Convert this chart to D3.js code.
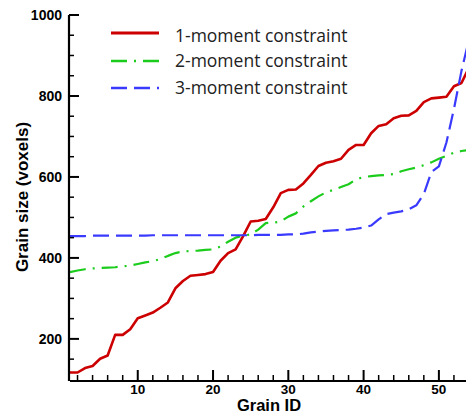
<!DOCTYPE html>
<html>
<head>
<meta charset="utf-8">
<script src="https://cdn.jsdelivr.net/npm/d3@7.9.0/dist/d3.min.js"></script>
<style>
  body { margin: 0; background: #fff; }
  svg { display: block; font-family: "Liberation Sans", Arial, sans-serif; }
  .tick-label { font-size: 14px; font-weight: bold; }
  .x-tick { font-size: 13.5px; }
  .axis-title { font-size: 17px; font-weight: bold; }
  .legend text { font-family: "Open Sans", sans-serif; font-size: 17.5px; fill: #222; }
</style>
</head>
<body>
<svg id="chart" width="466" height="414"></svg>
<script>
// grain ids 1..54
const grainIds = d3.range(1, 55);

const oneMoment = [117, 117, 128, 133, 151, 159, 210, 210, 224, 251,
  258, 265, 277, 290, 325, 343, 356, 358, 360, 365,
  393, 412, 421, 454, 490, 492, 496, 525, 560, 568,
  569, 584, 605, 627, 635, 639, 645, 667, 679, 679,
  708, 726, 730, 745, 751, 752, 763, 785, 794, 796,
  798, 824, 832, 870];

const twoMoment = [365, 369, 372, 374, 375, 376, 377, 379, 381, 385,
  389, 392, 397, 405, 412, 416, 417, 418, 420, 421,
  428, 440, 450, 455, 458, 470, 486, 487, 490, 502,
  510, 527, 540, 552, 562, 568, 575, 582, 594, 600,
  602, 604, 605, 607, 614, 619, 623, 629, 636, 645,
  652, 660, 664, 667];

const threeMoment = [454, 454, 454, 455, 455, 455, 455, 455, 455, 455,
  455, 456, 456, 456, 456, 456, 456, 456, 456, 456,
  456, 456, 456, 456, 456, 457, 457, 457, 457, 458,
  458, 460, 463, 465, 467, 468, 469, 470, 472, 475,
  480, 495, 508, 512, 515, 520, 530, 558, 612, 626,
  685, 768, 862, 940];

const seriesNames = ["1-moment constraint", "2-moment constraint", "3-moment constraint"];
const xMajorTicks = [10, 20, 30, 40, 50];
const yMajorTicks = [200, 400, 600, 800, 1000];

const seriesStyles = [
  { color: "#cc0000", width: 2.6, dash: null },
  { color: "#1ccc1c", width: 2.2, dash: "16,7,2,7" },
  { color: "#3a3aff", width: 2.2, dash: "16,7" }
];

const svg = d3.select("#chart");

const x = d3.scaleLinear().domain([1, 54]).range([70, 469]);
const y = d3.scaleLinear().domain([96, 1000]).range([381, 15]);

// curves
const allSeries = [oneMoment, twoMoment, threeMoment];
const line = d3.line().x((d, i) => x(grainIds[i])).y(d => y(d));

allSeries.forEach((vals, i) => {
  const s = seriesStyles[i];
  svg.append("path")
    .attr("d", line(vals))
    .attr("fill", "none")
    .attr("stroke", s.color)
    .attr("stroke-width", s.width)
    .attr("stroke-dasharray", s.dash)
    .attr("stroke-linejoin", "round");
});

// axes (ticks point inward)
const xAxis = svg.append("g").attr("transform", `translate(0,${y(96)})`);
xAxis.append("line")
  .attr("x1", x(1)).attr("x2", 466)
  .attr("stroke", "#000").attr("stroke-width", 2.2);
const xMinor = d3.range(2, 54, 2).filter(v => !xMajorTicks.includes(v));
xAxis.selectAll(".xmin").data(xMinor).join("line")
  .attr("x1", d => x(d)).attr("x2", d => x(d))
  .attr("y1", 0).attr("y2", -6)
  .attr("stroke", "#000").attr("stroke-width", 1.5);
xAxis.selectAll(".xmaj").data(xMajorTicks).join("line")
  .attr("x1", d => x(d)).attr("x2", d => x(d))
  .attr("y1", 0).attr("y2", -11)
  .attr("stroke", "#000").attr("stroke-width", 2);
xAxis.selectAll("text").data(xMajorTicks).join("text")
  .attr("class", "tick-label x-tick")
  .attr("x", d => x(d)).attr("y", 12.5)
  .attr("text-anchor", "middle")
  .text(d => d);

const yAxis = svg.append("g").attr("transform", `translate(${x(1) - 1},0)`);
yAxis.append("line")
  .attr("y1", y(96)).attr("y2", y(1000))
  .attr("stroke", "#000").attr("stroke-width", 2.2);
const yMinor = d3.range(150, 1000, 50).filter(v => !yMajorTicks.includes(v));
yAxis.selectAll(".ymin").data(yMinor).join("line")
  .attr("y1", d => y(d)).attr("y2", d => y(d))
  .attr("x1", 0).attr("x2", 5)
  .attr("stroke", "#000").attr("stroke-width", 1.5);
yAxis.selectAll(".ymaj").data(yMajorTicks).join("line")
  .attr("y1", d => y(d)).attr("y2", d => y(d))
  .attr("x1", 0).attr("x2", 10)
  .attr("stroke", "#000").attr("stroke-width", 2);
yAxis.selectAll("text").data(yMajorTicks).join("text")
  .attr("class", "tick-label")
  .attr("x", -7).attr("y", d => y(d) + 5)
  .attr("text-anchor", "end")
  .text(d => d);

// axis titles
svg.append("text").attr("class", "axis-title")
  .attr("x", 269).attr("y", 410.5)
  .attr("text-anchor", "middle")
  .style("font-size", "16.5px")
  .text("Grain ID");
svg.append("text").attr("class", "axis-title")
  .attr("transform", "translate(28,197) rotate(-90)")
  .attr("text-anchor", "middle")
  .text("Grain size (voxels)");

// legend
const legendRows = [33, 61, 88];
const legend = svg.append("g").attr("class", "legend");
seriesNames.forEach((name, i) => {
  const s = seriesStyles[i];
  legend.append("line")
    .attr("x1", 111).attr("x2", 159)
    .attr("y1", legendRows[i]).attr("y2", legendRows[i])
    .attr("stroke", s.color)
    .attr("stroke-width", i === 0 ? 3 : 2.4)
    .attr("stroke-dasharray", s.dash);
  legend.append("text")
    .attr("x", 175).attr("y", legendRows[i] + 6 + (i === 0 ? 3 : 0))
    .text(name);
});
</script>
</body>
</html>
